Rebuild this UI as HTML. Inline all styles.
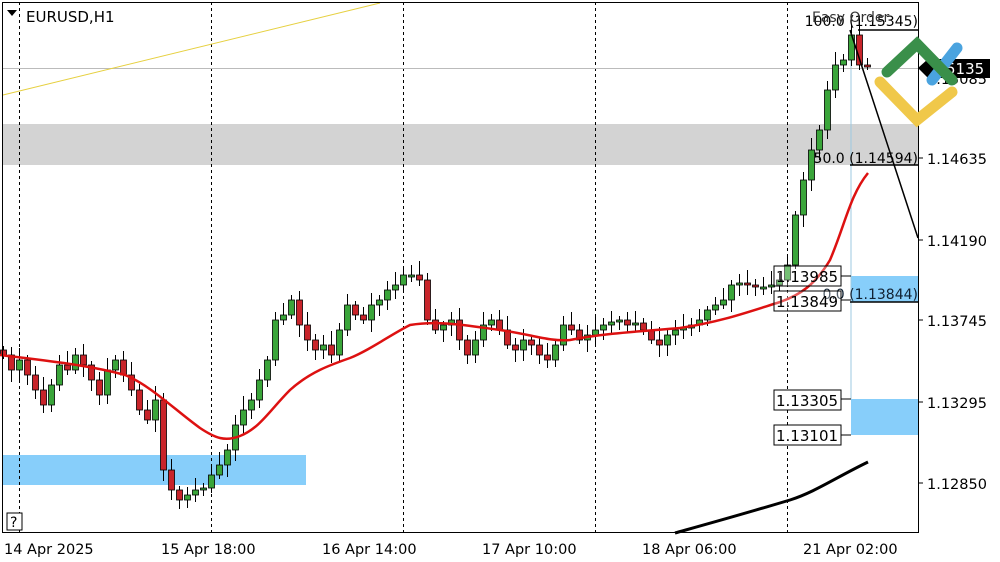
<!DOCTYPE html>
<html><head><meta charset="utf-8"><style>
body{margin:0;background:#fff;}
svg{display:block;font-family:"DejaVu Sans","Liberation Sans",sans-serif;}
</style></head><body>
<svg id="s" width="1000" height="562" viewBox="0 0 1000 562">
<rect x="0" y="0" width="1000" height="562" fill="#fff"/>
<rect x="3" y="124" width="915" height="41" fill="#d3d3d3"/>
<rect x="3" y="455" width="303" height="30" fill="#87cefa"/>
<rect x="851" y="276" width="67" height="26" fill="#87cefa"/>
<rect x="851" y="399" width="67" height="36" fill="#87cefa"/>
<line x1="851" y1="30" x2="851" y2="399" stroke="#9cc9e0" stroke-width="1"/>
<g stroke="#000" stroke-dasharray="3,3" stroke-width="1">
<line x1="19.5" y1="2" x2="19.5" y2="532"/><line x1="211.5" y1="2" x2="211.5" y2="532"/>
<line x1="403.5" y1="2" x2="403.5" y2="532"/><line x1="595.5" y1="2" x2="595.5" y2="532"/>
<line x1="787.5" y1="2" x2="787.5" y2="532"/></g>
<line x1="3" y1="68.5" x2="918" y2="68.5" stroke="#bbb"/>
<line x1="3" y1="95" x2="380" y2="3" stroke="#e6d040" stroke-width="1"/>
<g id="c"></g>
<path fill="none" stroke="#d11" stroke-width="2.5" stroke-linejoin="round" d="M0,355 C40,360 90,365 125,375 C150,385 175,410 200,428 C215,438 225,442 240,436 C260,428 270,410 290,390 C310,372 330,365 350,358 C370,350 390,335 410,325 C440,320 470,326 500,330 C530,334 550,342 570,340 C600,334 630,332 680,328 C720,322 745,313 780,302 C800,295 815,285 830,260 C845,225 850,195 868,173"/>
<path fill="none" stroke="#000" stroke-width="3" d="M675,533 C700,526 740,515 790,500 C815,492 835,478 868,462"/>
<line x1="850" y1="30" x2="918" y2="238" stroke="#000" stroke-width="1.5"/>
<line x1="858" y1="30" x2="918" y2="30" stroke="#000" stroke-width="1.5"/>
<line x1="850" y1="165" x2="918" y2="165" stroke="#000" stroke-width="1.5"/>
<line x1="850" y1="302" x2="918" y2="302" stroke="#000" stroke-width="1.5"/>
<g font-size="14" fill="#000">
<text x="918" y="26" text-anchor="end">100.0 (1.15345)</text>
<text x="918" y="163" text-anchor="end">50.0 (1.14594)</text>
<text x="918" y="299" text-anchor="end" fill="#123">0.0 (1.13844)</text>
<text x="812" y="22" fill="#333">Easy Order</text>
</g>
<g font-size="15" fill="#000">
<rect x="774" y="266" width="67" height="20" fill="#fff" fill-opacity="0.3" stroke="#000"/><text x="776" y="282">1.13985</text>
<rect x="774" y="291" width="67" height="20" fill="#fff" fill-opacity="0.3" stroke="#000"/><text x="776" y="307">1.13849</text>
<rect x="774" y="390" width="67" height="20" fill="#fff" stroke="#000"/><text x="776" y="406">1.13305</text>
<rect x="774" y="425" width="67" height="20" fill="#fff" stroke="#000"/><text x="776" y="441">1.13101</text>
<line x1="841" y1="276" x2="851" y2="276" stroke="#000"/><line x1="841" y1="300" x2="851" y2="300" stroke="#000"/>
<line x1="841" y1="399" x2="851" y2="399" stroke="#000"/><line x1="841" y1="435" x2="851" y2="435" stroke="#000"/>
</g>
<rect x="2.5" y="2.5" width="916" height="530" fill="none" stroke="#000"/>
<g stroke="#000"><line x1="918" y1="158" x2="923" y2="158"/><line x1="918" y1="240" x2="923" y2="240"/><line x1="918" y1="320" x2="923" y2="320"/><line x1="918" y1="402" x2="923" y2="402"/><line x1="918" y1="483" x2="923" y2="483"/></g>
<g font-size="14.5" fill="#000">
<text x="927" y="84">1.15085</text>
<text x="927" y="164">1.14635</text><text x="927" y="246">1.14190</text>
<text x="927" y="326">1.13745</text><text x="927" y="408">1.13295</text><text x="927" y="489">1.12850</text>
<text x="4" y="554">14 Apr 2025</text><text x="161" y="554">15 Apr 18:00</text>
<text x="322" y="554">16 Apr 14:00</text><text x="482" y="554">17 Apr 10:00</text>
<text x="642" y="554">18 Apr 06:00</text><text x="803" y="554">21 Apr 02:00</text>
<text x="26" y="22" font-size="15">EURUSD,H1</text>
</g>
<polygon points="7,10 17,10 12,16" fill="#000"/>
<rect x="7" y="513" width="15" height="17" fill="#fff" stroke="#000"/><text x="10" y="527" font-size="14">?</text>
<polygon points="918,68 928,59 990,59 990,78 928,78" fill="#000"/>
<text x="946" y="74" font-size="15" fill="#fff">5135</text>
<g stroke-linecap="round" fill="none" stroke-width="11">
<polyline points="880,82 917,120 952,92" stroke="#f0c84a"/>
<line x1="932" y1="80" x2="957" y2="48" stroke="#4aa3df"/>
<polyline points="887,72 917,44 952,80" stroke="#3a8f4a"/>
</g>
</svg>
<script>
var cl=[355,370,360,375,390,405,385,365,370,355,365,380,395,370,360,375,390,410,420,400,470,490,500,495,490,488,475,465,450,425,410,400,380,360,320,315,300,325,340,350,345,355,330,305,315,320,305,300,290,285,275,275,280,320,330,325,320,340,355,340,325,320,330,345,350,340,345,355,360,345,325,330,340,335,330,325,322,320,325,323,330,340,345,335,330,328,325,320,310,305,300,285,283,285,287,287,285,280,265,215,180,150,130,90,65,60,35,65,66];
var g=document.getElementById('c'),h='';
for(var i=0;i<cl.length;i++){var c=cl[i],o=(i==0?350:cl[i-1]),x=3+8*i;
var t=Math.min(o,c),b=Math.max(o,c),r=(i*37%11);
h+='<line x1="'+(x+.5)+'" y1="'+(t-4-r)+'" x2="'+(x+.5)+'" y2="'+(b+4+(i*53%9))+'" stroke="#000"/>';
if(b-t<2){b=t+2;}
h+='<rect x="'+(x-2.5)+'" y="'+t+'" width="6" height="'+(b-t)+'" fill="'+(c<=o?'#3aa53a':'#c8242a')+'" stroke="#000" stroke-width="0.8"/>';}
g.innerHTML=h;
</script>
</body></html>
